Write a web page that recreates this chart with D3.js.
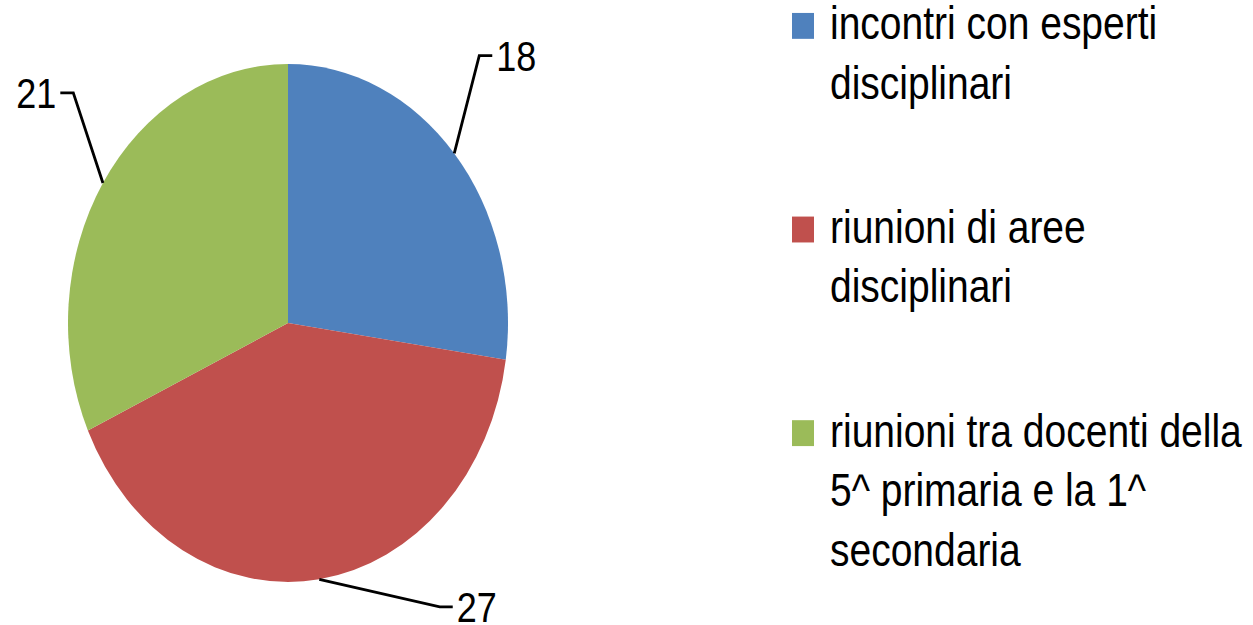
<!DOCTYPE html>
<html>
<head>
<meta charset="utf-8">
<script src="https://cdn.jsdelivr.net/npm/d3@7"></script>
<style>
  html, body { margin: 0; padding: 0; background: #fff; }
  svg { display: block; }
  text { font-family: "Liberation Sans", Arial, sans-serif; fill: #000; }
</style>
</head>
<body>
<svg id="chart" width="1253" height="625"></svg>
<script>
// Activity categories and their counts
const categories = [
  "incontri con esperti disciplinari",
  "riunioni di aree disciplinari",
  "riunioni tra docenti della 5^ primaria e la 1^ secondaria"
];
const values = [18, 27, 21];
const colors = ["#4F81BD", "#C0504D", "#9BBB59"];

// Legend text broken into lines
const legendLines = [
  ["incontri con esperti", "disciplinari"],
  ["riunioni di aree", "disciplinari"],
  ["riunioni tra docenti della", "5^ primaria e la 1^", "secondaria"]
];

// Leader line layout: angle tweak (degrees) and reach (x radius) of each elbow
const leaderLayout = [
  { turn: -9, reach: 1.35 },
  { turn: -24, reach: 1.295 },
  { turn: 9.6, reach: 1.32 }
];

const W = 1253, H = 625;
const sy = 1.177;              // whole drawing is stretched vertically
const cx = 288, cy = 274.4, r = 220;

const svg = d3.select("#chart");
const root = svg.append("g").attr("transform", `scale(1,${sy})`);

const data = categories.map((c, i) => ({ cat: c, value: values[i], color: colors[i], lines: legendLines[i], layout: leaderLayout[i] }));

const pie = d3.pie().sort(null).value(d => d.value);
const arcs = pie(data);
const arc = d3.arc().innerRadius(0).outerRadius(r);

const pieG = root.append("g").attr("transform", `translate(${cx},${cy})`);
pieG.selectAll("path.slice")
  .data(arcs)
  .join("path")
  .attr("class", "slice")
  .attr("d", arc)
  .attr("fill", d => d.data.color);

// Data labels with leader lines
const toRad = Math.PI / 180;
arcs.forEach(a => {
  const mid = (a.startAngle + a.endAngle) / 2;
  const edge = [r * Math.sin(mid), -r * Math.cos(mid)];
  const ang = mid + a.data.layout.turn * toRad;
  const rr = r * a.data.layout.reach;
  const elbow = [rr * Math.sin(ang), -rr * Math.cos(ang)];
  const right = elbow[0] >= 0;
  const tail = [elbow[0] + (right ? 13 : -13), elbow[1]];
  pieG.append("polyline")
    .attr("points", [edge, elbow, tail].map(p => p.join(",")).join(" "))
    .attr("fill", "none")
    .attr("stroke", "#000")
    .attr("stroke-width", 2.8)
    .attr("vector-effect", "non-scaling-stroke");
  pieG.append("text")
    .attr("x", tail[0] + (right ? 4 : -4))
    .attr("y", tail[1])
    .attr("dy", "0.36em")
    .attr("text-anchor", right ? "start" : "end")
    .attr("font-size", 36)
    .text(a.data.value);
});

// Legend
const legendX = 792, textX = 830, firstBaseline = 33.5, lineGap = 50.5, itemGap = 72;
let y = firstBaseline;
data.forEach(d => {
  const g = root.append("g");
  g.append("rect")
    .attr("x", legendX)
    .attr("y", y - 22.5)
    .attr("width", 22)
    .attr("height", 22)
    .attr("fill", d.color);
  d.lines.forEach((ln, j) => {
    g.append("text")
      .attr("x", textX)
      .attr("y", y + j * lineGap)
      .attr("font-size", 39)
      .text(ln);
  });
  y += d.lines.length * lineGap + itemGap;
});
</script>
</body>
</html>
